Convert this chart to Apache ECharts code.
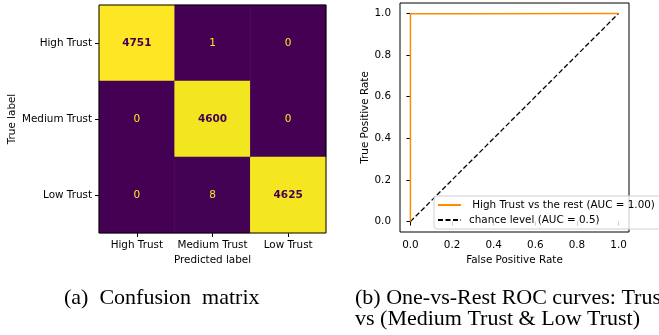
<!DOCTYPE html>
<html><head><meta charset="utf-8">
<script src="https://cdn.jsdelivr.net/npm/echarts@6/dist/echarts.min.js"></script>
<style>html,body{margin:0;padding:0;background:#fff}#c{width:659px;height:335px}</style>
</head><body><div id="c"></div>
<script>
// ---- data ----
const classLabels = ['High Trust', 'Medium Trust', 'Low Trust'];
const cmRow0 = [4751, 1, 0];
const cmRow1 = [0, 4600, 0];
const cmRow2 = [0, 8, 4625];
const rocFpr = [0, 0, 0.29, 0.29, 1];
const rocTpr = [0, 0.998, 0.998, 1, 1];
const chanceFpr = [0, 1];
const chanceTpr = [0, 1];
const rocTicks = [0, 0.2, 0.4, 0.6, 0.8, 1.0];
const rocName = ' High Trust vs the rest (AUC = 1.00)';
const chanceName = 'chance level (AUC = 0.5)';

// ---- build ----
const cm = [cmRow0, cmRow1, cmRow2];
const cmMax = Math.max(...cm.flat());
const cmMin = Math.min(...cm.flat());
const heatData = [];
cm.forEach((row, i) => row.forEach((v, j) => {
  const bright = v > (cmMax + cmMin) / 2;
  heatData.push({
    value: [j, i, v],
    label: { color: bright ? '#440154' : '#fde725', fontWeight: bright ? 'bold' : 'normal' }
  });
}));
const rocData = rocFpr.map((x, k) => [x, rocTpr[k]]);
const chanceData = chanceFpr.map((x, k) => [x, chanceTpr[k]]);

const FONT = 'DejaVu Sans';
const FS = 10.4;
const txt = { fontFamily: FONT, fontSize: FS, color: '#000' };

const chart = echarts.init(document.getElementById('c'), null, { renderer: 'canvas' });
chart.setOption({
  animation: false,
  backgroundColor: '#fff',
  textStyle: { fontFamily: FONT },
  grid: [
    { left: 99, top: 5, width: 227, height: 228, show: true, borderColor: '#000', borderWidth: 1, backgroundColor: 'transparent', z: 10 },
    { left: 400, top: 3, width: 229, height: 229, show: true, borderColor: '#000', borderWidth: 1, backgroundColor: 'transparent' }
  ],
  xAxis: [
    {
      gridIndex: 0, type: 'category', data: classLabels,
      axisLine: { show: false }, splitLine: { show: false },
      axisTick: { show: true, alignWithLabel: true, length: 4, lineStyle: { color: '#000' } },
      axisLabel: { ...txt, margin: 7, interval: 0 },
      name: 'Predicted label', nameLocation: 'middle', nameGap: 19, nameTextStyle: { ...txt }
    },
    {
      gridIndex: 1, type: 'value', min: -0.05, max: 1.05,
      axisLine: { show: false }, splitLine: { show: false },
      axisTick: { show: true, length: 4, lineStyle: { color: '#000' }, customValues: rocTicks },
      axisLabel: { ...txt, margin: 8, customValues: rocTicks, formatter: v => v.toFixed(1) },
      name: 'False Positive Rate', nameLocation: 'middle', nameGap: 21, nameTextStyle: { ...txt }
    }
  ],
  yAxis: [
    {
      gridIndex: 0, type: 'category', data: classLabels, inverse: true,
      axisLine: { show: false }, splitLine: { show: false },
      axisTick: { show: true, alignWithLabel: true, length: 4, lineStyle: { color: '#000' } },
      axisLabel: { ...txt, margin: 7, interval: 0 },
      name: 'True label', nameLocation: 'middle', nameGap: 82, nameTextStyle: { ...txt }
    },
    {
      gridIndex: 1, type: 'value', min: -0.05, max: 1.05,
      axisLine: { show: false }, splitLine: { show: false },
      axisTick: { show: true, length: 4, lineStyle: { color: '#000' }, customValues: rocTicks },
      axisLabel: { ...txt, margin: 9, customValues: rocTicks, formatter: v => v.toFixed(1) },
      name: 'True Positive Rate', nameLocation: 'middle', nameGap: 28, nameTextStyle: { ...txt }
    }
  ],
  visualMap: {
    show: false, seriesIndex: 0, min: cmMin, max: cmMax, dimension: 2,
    inRange: { color: ['#440154', '#482475', '#414487', '#355f8d', '#2a788e', '#21918c', '#22a884', '#44bf70', '#7ad151', '#bddf26', '#dde318', '#fde725'] }
  },
  legend: {
    data: [rocName, chanceName],
    orient: 'vertical', left: 434, top: 196,
    padding: [4, 12, 4, 3], itemGap: 5, itemWidth: 23, itemHeight: 10,
    backgroundColor: 'rgba(255,255,255,0.8)', borderColor: '#d0d0d0', borderWidth: 1, borderRadius: 3,
    itemStyle: { color: 'rgba(0,0,0,0)', borderColor: 'rgba(0,0,0,0)', borderWidth: 0 },
    textStyle: { ...txt, padding: [0, 0, 0, 3] },
    selectedMode: false
  },
  series: [
    {
      type: 'heatmap', xAxisIndex: 0, yAxisIndex: 0, data: heatData,
      label: { show: true, fontFamily: FONT, fontSize: 10.5 },
      itemStyle: { borderWidth: 0 }
    },
    {
      name: rocName, type: 'line', xAxisIndex: 1, yAxisIndex: 1, data: rocData,
      symbol: 'none', lineStyle: { color: '#ff8c00', width: 1.5 }, itemStyle: { color: '#ff8c00' }, z: 3
    },
    {
      name: chanceName, type: 'line', xAxisIndex: 1, yAxisIndex: 1, data: chanceData,
      symbol: 'none', lineStyle: { color: '#000', width: 1.3, type: [5, 2.5] }, itemStyle: { color: '#000' }, z: 2
    }
  ],
  graphic: [
    { type: 'text', left: 64, top: 287, style: { text: '(a)  Confusion  matrix', font: '22px "Liberation Serif"', fill: '#000' } },
    { type: 'text', left: 355, top: 287, style: { text: '(b) One-vs-Rest ROC curves: Trust', font: '22px "Liberation Serif"', fill: '#000' } },
    { type: 'text', left: 355, top: 308, style: { text: 'vs (Medium Trust & Low Trust)', font: '22px "Liberation Serif"', fill: '#000' } }
  ]
});
</script>
</body></html>
